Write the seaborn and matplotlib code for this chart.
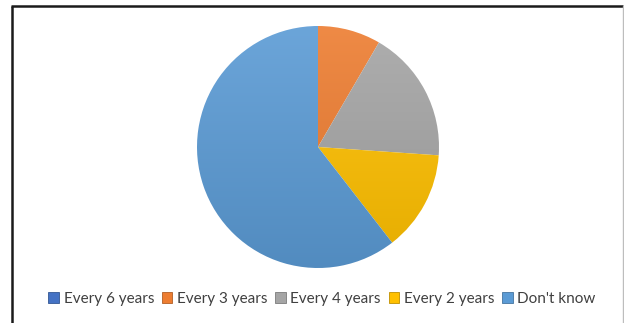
import numpy as np
import matplotlib
matplotlib.use("Agg")
import matplotlib.pyplot as plt
import matplotlib.colors as mcolors
from matplotlib.patches import Rectangle
import seaborn as sns

# Survey answers: how often the check should take place (share of respondents, %)
categories = ["Every 6 years", "Every 3 years", "Every 4 years", "Every 2 years", "Don't know"]
shares = [0.0, 8.4, 17.7, 13.4, 60.5]
palette_hex = ["#4472C4", "#ED7D31", "#A5A5A5", "#FFC000", "#5B9BD5"]

sns.set_theme(style="white")
plt.rcParams["font.family"] = ["Lato", "DejaVu Sans"]
colors = sns.color_palette(palette_hex)

fig = plt.figure(figsize=(6.24, 3.23), dpi=100)
fig.patch.set_facecolor("white")

# Chart frame
frame = fig.add_axes([0, 0, 1, 1])
frame.set_xlim(0, 624)
frame.set_ylim(323, 0)
frame.axis("off")
frame.plot([12, 12], [6, 330], color="#1a1a1a", lw=1.8, solid_capstyle="butt")
frame.plot([11, 623], [6, 6], color="#1a1a1a", lw=1.8, solid_capstyle="butt")
frame.plot([622.5, 622.5], [6, 330], color="#bdbdbd", lw=1.0)

# Pie
cx, cy, r = 318, 147, 121
ax = fig.add_axes([(cx - r) / 624, (323 - cy - r) / 323, 2 * r / 624, 2 * r / 323])
wedges, _ = ax.pie(shares, colors=colors, startangle=90, counterclock=False,
                   radius=1.0, wedgeprops=dict(linewidth=0))
ax.set_xlim(-1, 1)
ax.set_ylim(-1, 1)
ax.axis("off")

# Soft vertical shading inside each slice (lighter on top, darker at bottom)
yy = np.linspace(1, -1, 256)[:, None] * np.ones((1, 2))
for w, c in zip(wedges, colors):
    rgb = np.array(mcolors.to_rgb(c))
    light = np.clip(rgb + (1 - rgb) * 0.10, 0, 1)
    dark = rgb * 0.90
    t = (1 - yy) / 2
    img = light[None, None, :] * (1 - t[..., None]) + dark[None, None, :] * t[..., None]
    im = ax.imshow(img, extent=(-1, 1, -1, 1), origin="upper", zorder=w.get_zorder(),
                   interpolation="bilinear")
    im.set_clip_path(w)
    w.set_alpha(0)

# Legend
handles = [Rectangle((0, 0), 1, 1, facecolor=c, edgecolor=mcolors.to_hex(np.array(c) * 0.75), lw=0.6)
           for c in colors]
fig.legend(handles, categories, loc="center", bbox_to_anchor=(322 / 624, 1 - 299 / 323),
           ncol=5, frameon=False, fontsize=11, handlelength=0.7, handleheight=0.7,
           handletextpad=0.3, columnspacing=0.5, borderpad=0, labelcolor="#404040")

fig.savefig("out.png", dpi=100, facecolor="white")
